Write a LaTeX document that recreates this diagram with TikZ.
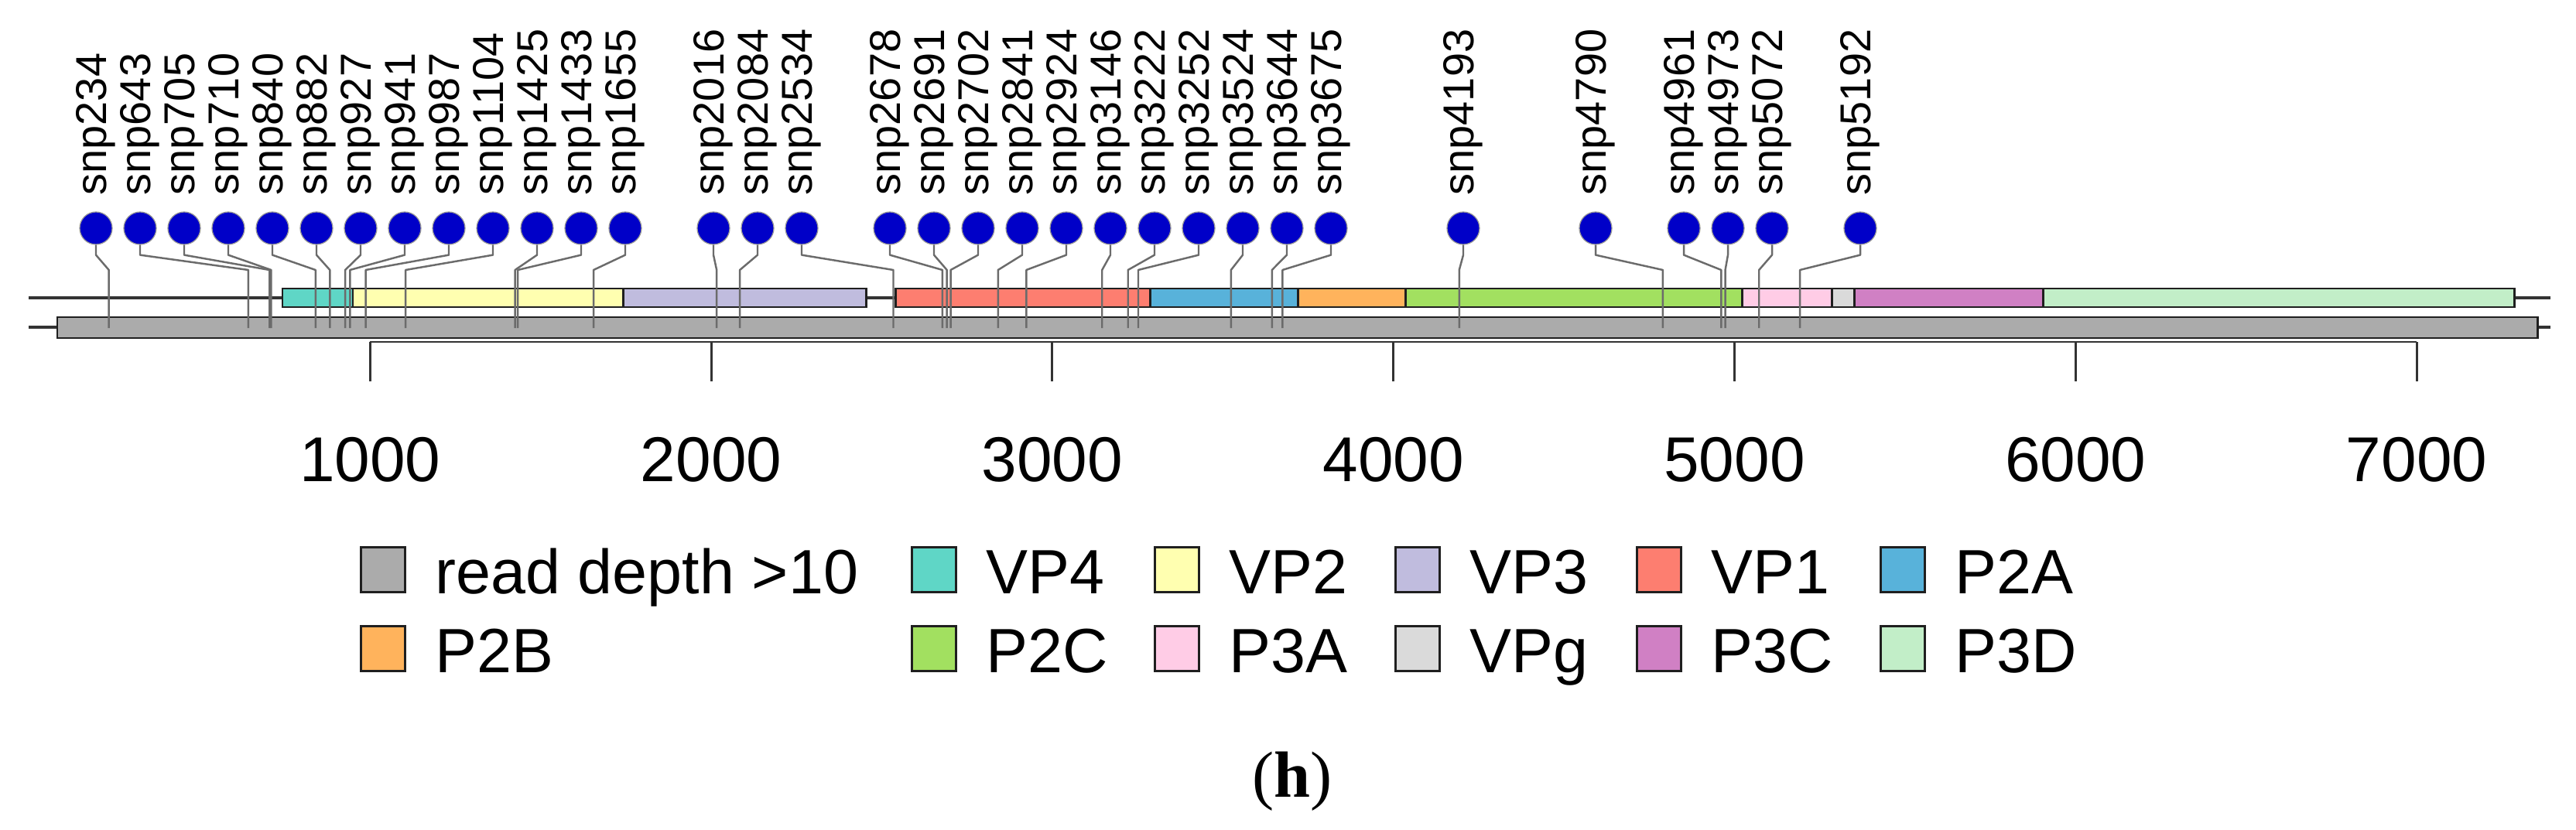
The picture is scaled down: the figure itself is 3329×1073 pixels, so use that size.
\documentclass[tikz,border=0pt]{standalone}
\usepackage{fontspec}
\setmainfont{Liberation Sans}
\newfontfamily\capserif{Liberation Serif}
\definecolor{cRD}{HTML}{ABABAB}
\definecolor{cVPfour}{HTML}{5FD6C6}
\definecolor{cVPtwo}{HTML}{FFFFB0}
\definecolor{cVPthree}{HTML}{C0BCDE}
\definecolor{cVPone}{HTML}{FD7E70}
\definecolor{cPtwoA}{HTML}{58B2DA}
\definecolor{cPtwoB}{HTML}{FFB35C}
\definecolor{cPtwoC}{HTML}{A2E060}
\definecolor{cPthreeA}{HTML}{FFCCE6}
\definecolor{cVPg}{HTML}{DADADA}
\definecolor{cPthreeC}{HTML}{D080C4}
\definecolor{cPthreeD}{HTML}{C2EEC8}
\definecolor{cLolli}{RGB}{0,0,200}
\begin{document}
\begin{tikzpicture}[x=0.01cm,y=-0.01cm,
  dom/.style={draw=black!88, line width=0.85pt},
  baseline line/.style={draw=black!80, line width=1.1pt},
  stem/.style={draw=black!58, line width=0.7pt, line join=round},
  lolli/.style={circle, fill=cLolli, draw=black!40, line width=0.35pt, minimum size=0.42cm, inner sep=0pt},
  snplab/.style={rotate=90, anchor=west, inner sep=0pt, font=\fontsize{15.9pt}{16pt}\selectfont},
  ticklab/.style={anchor=base, inner sep=0pt, font=\fontsize{23.3pt}{24pt}\selectfont},
  legbox/.style={draw=black!88, line width=0.85pt, minimum width=0.57cm, minimum height=0.58cm, inner sep=0pt, anchor=south west},
  legtext/.style={anchor=base west, inner sep=0pt, font=\fontsize{23pt}{24pt}\selectfont}
]
\useasboundingbox (0,0) rectangle (3329,1073);

% genome baselines
\draw[baseline line] (37,385) -- (3296,385);
\draw[baseline line] (37,423) -- (3296,423);

% read depth bar
\draw[dom, fill=cRD] (74,410) rectangle (3279,437);

% protein domains
\draw[dom, fill=cVPfour]   (365,373)  rectangle (456,397);
\draw[dom, fill=cVPtwo]    (456,373)  rectangle (805,397);
\draw[dom, fill=cVPthree]  (805,373)  rectangle (1119,397);
\draw[dom, fill=cVPone]    (1157,373) rectangle (1486,397);
\draw[dom, fill=cPtwoA]    (1486,373) rectangle (1677,397);
\draw[dom, fill=cPtwoB]    (1677,373) rectangle (1816,397);
\draw[dom, fill=cPtwoC]    (1816,373) rectangle (2251,397);
\draw[dom, fill=cPthreeA]  (2251,373) rectangle (2367,397);
\draw[dom, fill=cVPg]      (2367,373) rectangle (2396,397);
\draw[dom, fill=cPthreeC]  (2396,373) rectangle (2640,397);
\draw[dom, fill=cPthreeD]  (2640,373) rectangle (3249,397);

% axis
\draw[draw=black!80, line width=0.85pt] (478.3,442) -- (3123.1,442);
\foreach \v in {1000,2000,...,7000}{
  \pgfmathsetmacro\tx{37.5+0.4408*\v}
  \coordinate (t\v) at (\tx,442);
  \draw[draw=black!80, line width=0.85pt] (t\v) -- ++(0,51);
  \node[ticklab] (tl\v) at (\tx,622) {\v};
}

% lollipops
\foreach \n/\k in {234/0,643/1,705/2,710/3,840/4,882/5,927/6,941/7,987/8,1104/9,1425/10,1433/11,1655/12,
  2016/14,2084/15,2534/16,2678/18,2691/19,2702/20,2841/21,2924/22,3146/23,3222/24,3252/25,3524/26,3644/27,3675/28,
  4193/31,4790/34,4961/36,4973/37,5072/38,5192/40}{
  \pgfmathsetmacro\sx{124+57*\k}
  \pgfmathsetmacro\gx{37.5+0.4408*\n}
  \coordinate (b\n) at (\gx,349);
  \coordinate (g\n) at (\gx,424);
  \node[lolli] (c\n) at (\sx,295) {};
  \draw[stem] (c\n.south) -- ++(0,13) -- (b\n) -- (g\n);
  \node[snplab] (l\n) at (\sx,253) {snp\n};
}

% legend
\foreach \x/\y/\c/\t/\m in {465/767/cRD/read depth >10/a,1177/767/cVPfour/VP4/b,1491/767/cVPtwo/VP2/c,
  1802/767/cVPthree/VP3/d,2114/767/cVPone/VP1/e,2429/767/cPtwoA/P2A/f,
  465/869/cPtwoB/P2B/g,1177/869/cPtwoC/P2C/h,1491/869/cPthreeA/P3A/i,
  1802/869/cVPg/VPg/j,2114/869/cPthreeC/P3C/k,2429/869/cPthreeD/P3D/l}{
  \node[legbox, fill=\c] (lb\m) at (\x,\y) {};
  \node[legtext] (lt\m) at (\x+97,\y) {\t};
}

% caption
\node[anchor=base, inner sep=0pt, font=\capserif\fontsize{24pt}{26pt}\selectfont] (cap) at (1670,1030) {(\textbf{h})};
\end{tikzpicture}
\end{document}
